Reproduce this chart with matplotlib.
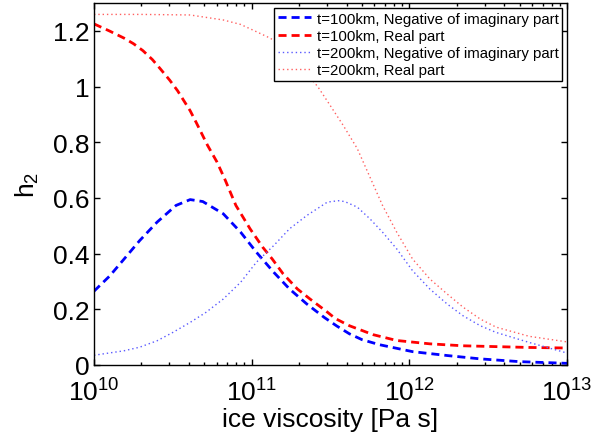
import numpy as np
import matplotlib
matplotlib.use('Agg')
import matplotlib.pyplot as plt
from matplotlib.ticker import FixedLocator, LogLocator, NullFormatter, FixedFormatter

plt.rcParams['font.family'] = ['Liberation Sans', 'DejaVu Sans']
plt.rcParams['mathtext.fontset'] = 'custom'
plt.rcParams['mathtext.rm'] = 'Liberation Sans'
plt.rcParams['mathtext.it'] = 'Liberation Sans:italic'
plt.rcParams['mathtext.default'] = 'regular'

# ---- data (log10 of ice viscosity, h2 values) ----
logeta_imag100 = [10.0, 10.10, 10.19, 10.29, 10.40, 10.52, 10.61, 10.69, 10.82, 10.93,
                  11.03, 11.14, 11.24, 11.35, 11.46, 11.54, 11.62, 11.70, 11.81, 12.02,
                  12.24, 12.45, 12.70, 13.0]
h2_imag100 = [0.265, 0.32, 0.38, 0.447, 0.513, 0.573, 0.594, 0.587, 0.543, 0.477,
              0.405, 0.333, 0.273, 0.219, 0.171, 0.14, 0.112, 0.091, 0.073, 0.048,
              0.034, 0.022, 0.012, 0.006]

logeta_real100 = [10.0, 10.10, 10.19, 10.25, 10.31, 10.37, 10.42, 10.48, 10.53, 10.61,
                  10.65, 10.72, 10.78, 10.83, 10.90, 10.99, 11.07, 11.13, 11.20, 11.29,
                  11.37, 11.48, 11.53, 11.62, 11.77, 11.92, 12.13, 12.34, 12.55, 12.76, 13.0]
h2_real100 = [1.225, 1.199, 1.174, 1.154, 1.129, 1.097, 1.064, 1.023, 0.985, 0.913,
              0.869, 0.789, 0.729, 0.667, 0.573, 0.489, 0.423, 0.381, 0.327, 0.273,
              0.237, 0.19, 0.167, 0.141, 0.109, 0.088, 0.076, 0.069, 0.066, 0.063, 0.061]

logeta_imag200 = [10.0, 10.19, 10.29, 10.40, 10.50, 10.61, 10.71, 10.82, 10.93, 11.03,
                  11.14, 11.24, 11.35, 11.48, 11.55, 11.59, 11.67, 11.75, 11.83, 11.92,
                  12.02, 12.13, 12.24, 12.34, 12.45, 12.55, 12.76, 13.0]
h2_imag200 = [0.035, 0.051, 0.064, 0.087, 0.117, 0.153, 0.189, 0.237, 0.297, 0.369,
              0.429, 0.489, 0.537, 0.585, 0.590, 0.587, 0.567, 0.525, 0.477, 0.417,
              0.339, 0.273, 0.219, 0.177, 0.141, 0.117, 0.081, 0.043]

logeta_real200 = [10.0, 10.3, 10.61, 10.82, 10.93, 11.03, 11.12, 11.2, 11.3, 11.42,
                  11.49, 11.58, 11.67, 11.75, 11.83, 11.92, 12.02, 12.13, 12.24, 12.34,
                  12.45, 12.55, 12.76, 13.0]
h2_real200 = [1.259, 1.259, 1.257, 1.239, 1.223, 1.197, 1.173, 1.14, 1.08, 0.999,
              0.939, 0.861, 0.777, 0.675, 0.573, 0.477, 0.381, 0.309, 0.255, 0.208,
              0.165, 0.136, 0.103, 0.083]

labels = ['t=100km, Negative of imaginary part', 't=100km, Real part',
          't=200km, Negative of imaginary part', 't=200km, Real part']
xtick_exps = [10, 11, 12, 13]
yticks = [0, 0.2, 0.4, 0.6, 0.8, 1.0, 1.2]
ytick_labels = ['0', '0.2', '0.4', '0.6', '0.8', '1', '1.2']

fig = plt.figure(figsize=(5.92, 4.39), dpi=100)
ax = fig.add_axes([94/592, 73/439, (567-94)/592, (366-4)/439])

dash = (0, (2.9, 1.8))
dot = (0, (1, 2.1))
ax.plot(10**np.array(logeta_imag100), h2_imag100, color='#0000ff', lw=2, ls=dash, label=labels[0])
ax.plot(10**np.array(logeta_real100), h2_real100, color='#ff0000', lw=2, ls=dash, label=labels[1])
ax.plot(10**np.array(logeta_imag200), h2_imag200, color='#5a5aff', lw=1.0, ls=dot, label=labels[2])
ax.plot(10**np.array(logeta_real200), h2_real200, color='#ff6060', lw=1.0, ls=dot, label=labels[3])

ax.set_xscale('log')
ax.set_xlim(1e10, 1e13)
ax.set_ylim(0, 1.3)
ax.xaxis.set_major_locator(FixedLocator([10.0**e for e in xtick_exps]))
ax.xaxis.set_major_formatter(FixedFormatter([r'$10^{%d}$' % e for e in xtick_exps]))
ax.xaxis.set_minor_locator(LogLocator(base=10, subs=np.arange(2, 10)))
ax.xaxis.set_minor_formatter(NullFormatter())
ax.yaxis.set_major_locator(FixedLocator(yticks))
ax.yaxis.set_major_formatter(FixedFormatter(ytick_labels))

ax.tick_params(which='both', direction='in', top=True, right=True, width=1)
ax.tick_params(which='major', length=4.5, labelsize=19)
ax.tick_params(which='minor', length=2.5)
ax.tick_params(axis='x', pad=10)
for s in ax.spines.values():
    s.set_linewidth(1.0)

ax.set_xlabel('ice viscosity [Pa s]', fontsize=19, labelpad=1)
ax.set_ylabel('h$_2$', fontsize=19, labelpad=8)

leg = ax.legend(loc='upper right', fontsize=10.8, handlelength=2.2, handletextpad=0.4,
                labelspacing=0.22, borderpad=0.22, borderaxespad=0.35, frameon=True,
                fancybox=False)
leg.get_frame().set_edgecolor('black')
leg.get_frame().set_linewidth(1.0)
leg.get_frame().set_alpha(1)

fig.savefig('out.png', dpi=100)
